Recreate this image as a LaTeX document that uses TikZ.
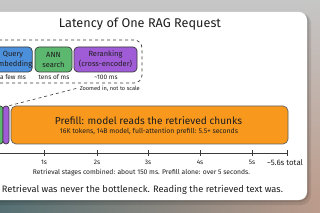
\documentclass[tikz,border=0pt]{standalone}
\usepackage{fontspec}
\usepackage{graphicx}
\setmainfont{Fira Sans}
\newcommand{\fitto}[2]{\resizebox{#1pt}{!}{#2}}
\definecolor{bgtop}{HTML}{C6C6C6}
\definecolor{bgbot}{HTML}{9AA2A2}
\definecolor{bgteal}{HTML}{557073}
\definecolor{bgpink}{HTML}{BC9C8C}
\definecolor{qblue}{HTML}{4C8FDB}
\definecolor{agreen}{HTML}{5BB86E}
\definecolor{rpurple}{HTML}{A05CD6}
\definecolor{porange}{HTML}{F8981D}
\definecolor{ink}{HTML}{1E1E1E}
\definecolor{edge}{HTML}{3A3A3A}
\tikzset{
  stagebox/.style={draw=edge, line width=0.7pt, rounded corners=4pt, inner sep=0pt, align=center, text=ink, font=\fontsize{7.5}{10}\selectfont, minimum height=25pt},
  barbox/.style={draw=edge, line width=0.7pt, rounded corners=3pt, inner sep=0pt, minimum height=38pt},
  lbl/.style={inner sep=0pt, text=ink},
  tickmark/.style={draw=edge, line width=0.6pt},
}
\begin{document}
\begin{tikzpicture}[x=1pt,y=-1pt]
\useasboundingbox (0,0) rectangle (320,213);
\clip (0,0) rectangle (320,213);
% background
\fill[top color=bgtop, bottom color=bgbot] (0,0) rectangle (320,213);
\fill[left color=bgteal, right color=bgpink] (0,195) rectangle (320,213);
\fill[top color=bgtop, bottom color=bgpink] (302,0) rectangle (320,200);
% shadow and card
\fill[black, opacity=0.10, rounded corners=10pt] (-12,13) rectangle (311,205);
\fill[black, opacity=0.12, rounded corners=9pt] (-12,13) rectangle (309,202);
\fill[white, rounded corners=8pt] (-12,12) rectangle (307,200);
% title
\node[lbl] (title) at (140,24) {\fitto{162}{Latency of One RAG Request}};
% zoomed box
\node[draw=edge, dashed, line width=0.7pt, rounded corners=8pt, minimum width=162pt, minimum height=43pt, inner sep=0pt] (zoom) at (61,61.5) {};
\node[stagebox, fill=qblue, minimum width=38pt] (query) at (13,59.5) {Query\\embedding};
\node[stagebox, fill=agreen, minimum width=37pt] (ann) at (53.5,59.5) {ANN\\search};
\node[stagebox, fill=rpurple, minimum width=63pt] (rerank) at (105.5,59.5) {Reranking\\(cross-encoder)};
\node[lbl, font=\fontsize{6.5}{7}\selectfont] (qt) at (13,77.5) {a few ms};
\node[lbl, font=\fontsize{6.5}{7}\selectfont] (at) at (54,77.5) {tens of ms};
\node[lbl, font=\fontsize{6.5}{7}\selectfont] (rt) at (106,77.5) {\textasciitilde100 ms};
\node[lbl, anchor=east] (zl) at (140,89) {\fitto{60}{Zoomed in, not to scale}};
% bars
\node[barbox, fill=agreen, minimum width=6pt] (gbar) at (0,125) {};
\node[barbox, fill=rpurple, minimum width=6pt] (pbar) at (6,125) {};
\node[barbox, fill=porange, minimum width=277pt, draw=edge!80, rounded corners=5pt] (obar) at (149.5,125) {};
\node[lbl] (ptitle) at (148.5,120.5) {\fitto{187}{Prefill: model reads the retrieved chunks}};
\node[lbl] (psub) at (149,132) {\fitto{178}{16K tokens, 14B model, full-attention prefill: 5.5+ seconds}};
% connector
\coordinate (zoomend) at (78,88);
\draw[edge, dashed, line width=0.6pt] (pbar.north east) -- (zoomend);
% axis
\coordinate (ax0) at (-5,153);
\coordinate (axend) at (287,153);
\draw[edge, line width=0.6pt] (ax0) -- (axend);
\foreach \x/\t in {44/1s, 97/2s, 148/3s, 200/4s, 252/5s} {
  \draw[tickmark] (\x,150) -- (\x,156);
  \node[lbl, font=\fontsize{6.5}{7}\selectfont] at (\x,162.5) {\t};
}
\draw[tickmark] (axend) ++(0,-3) -- ++(0,6);
\node[lbl] (endl) at (285,162.5) {\fitto{36}{\textasciitilde5.6s total}};
\node[lbl] (note) at (141.5,173) {\fitto{217}{Retrieval stages combined: about 150 ms. Prefill alone: over 5 seconds.}};
\node[lbl] (take) at (142.5,190) {\fitto{281}{Retrieval was never the bottleneck. Reading the retrieved text was.}};
\end{tikzpicture}
\end{document}
